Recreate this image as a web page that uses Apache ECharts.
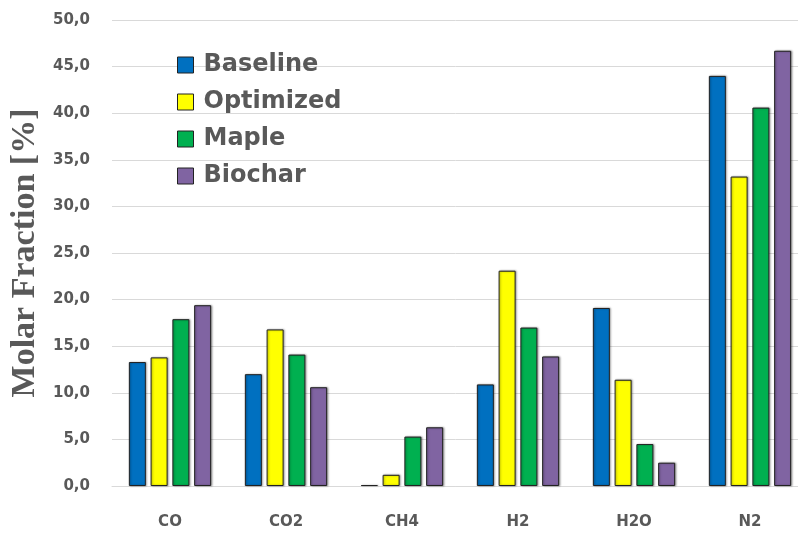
<!DOCTYPE html>
<html>
<head>
<meta charset="utf-8">
<script src="https://cdn.jsdelivr.net/npm/echarts@6/dist/echarts.min.js"></script>
<style>
  html, body { margin: 0; padding: 0; background: #ffffff; }
  #chart { width: 798px; height: 533px; }
</style>
</head>
<body>
<div id="chart"></div>
<script>
// Gas species on the category axis
const categories = ['CO', 'CO2', 'CH4', 'H2', 'H2O', 'N2'];

// Molar fraction (%) per case
const baseline  = [13.3, 12.0, 0.1, 10.9, 19.1, 44.0];
const optimized = [13.8, 16.8, 1.2, 23.1, 11.4, 33.2];
const maple     = [17.9, 14.1, 5.3, 17.0, 4.5, 40.6];
const biochar   = [19.4, 10.6, 6.3, 13.9, 2.5, 46.7];

const seriesNames = ['Baseline', 'Optimized', 'Maple', 'Biochar'];
const seriesData = [baseline, optimized, maple, biochar];
const colors = ['#0070c0', '#ffff00', '#00b050', '#8064a2'];

const grey = '#595959';

const chart = echarts.init(document.getElementById('chart'), null, { renderer: 'canvas' });

chart.setOption({
  animation: false,
  backgroundColor: '#ffffff',
  // plot area runs slightly past the right edge of the canvas
  grid: { left: 112, width: 696, top: 20, bottom: 47, containLabel: false, outerBoundsMode: 'none' },
  legend: {
    orient: 'vertical',
    left: 172,
    top: 45,
    itemWidth: 16,
    itemHeight: 16,
    itemGap: 7,
    icon: 'rect',
    data: seriesNames,
    itemStyle: { borderColor: '#222', borderWidth: 1 },
    textStyle: {
      fontFamily: 'DejaVu Sans',
      fontWeight: 'bold',
      fontSize: 24,
      color: grey,
      lineHeight: 30,
      padding: [0, 0, 0, 5]
    }
  },
  xAxis: {
    type: 'category',
    data: categories,
    axisTick: { show: false },
    axisLine: { lineStyle: { color: '#d9d9d9', width: 1 } },
    axisLabel: {
      margin: 29,
      fontFamily: 'DejaVu Sans',
      fontWeight: 'bold',
      fontSize: 15,
      color: grey
    }
  },
  yAxis: {
    type: 'value',
    min: 0,
    max: 50,
    interval: 5,
    name: 'Molar Fraction [%]',
    nameLocation: 'middle',
    nameGap: 67,
    nameRotate: 90,
    nameTextStyle: {
      fontFamily: 'Liberation Serif',
      fontWeight: 'bold',
      fontSize: 34,
      color: grey
    },
    axisLine: { show: false },
    axisTick: { show: false },
    splitLine: { lineStyle: { color: '#d9d9d9', width: 1 } },
    axisLabel: {
      margin: 22,
      fontFamily: 'DejaVu Sans',
      fontWeight: 'bold',
      fontSize: 15,
      color: grey,
      formatter: v => v.toFixed(1).replace('.', ',')
    }
  },
  series: seriesNames.map((name, i) => ({
    name: name,
    type: 'bar',
    data: seriesData[i],
    barWidth: 17,
    barGap: '28%',
    itemStyle: {
      color: colors[i],
      borderColor: '#222',
      borderWidth: 1,
      shadowColor: 'rgba(0,0,0,0.35)',
      shadowBlur: 2,
      shadowOffsetX: 1,
      shadowOffsetY: 0
    }
  }))
});
</script>
</body>
</html>
